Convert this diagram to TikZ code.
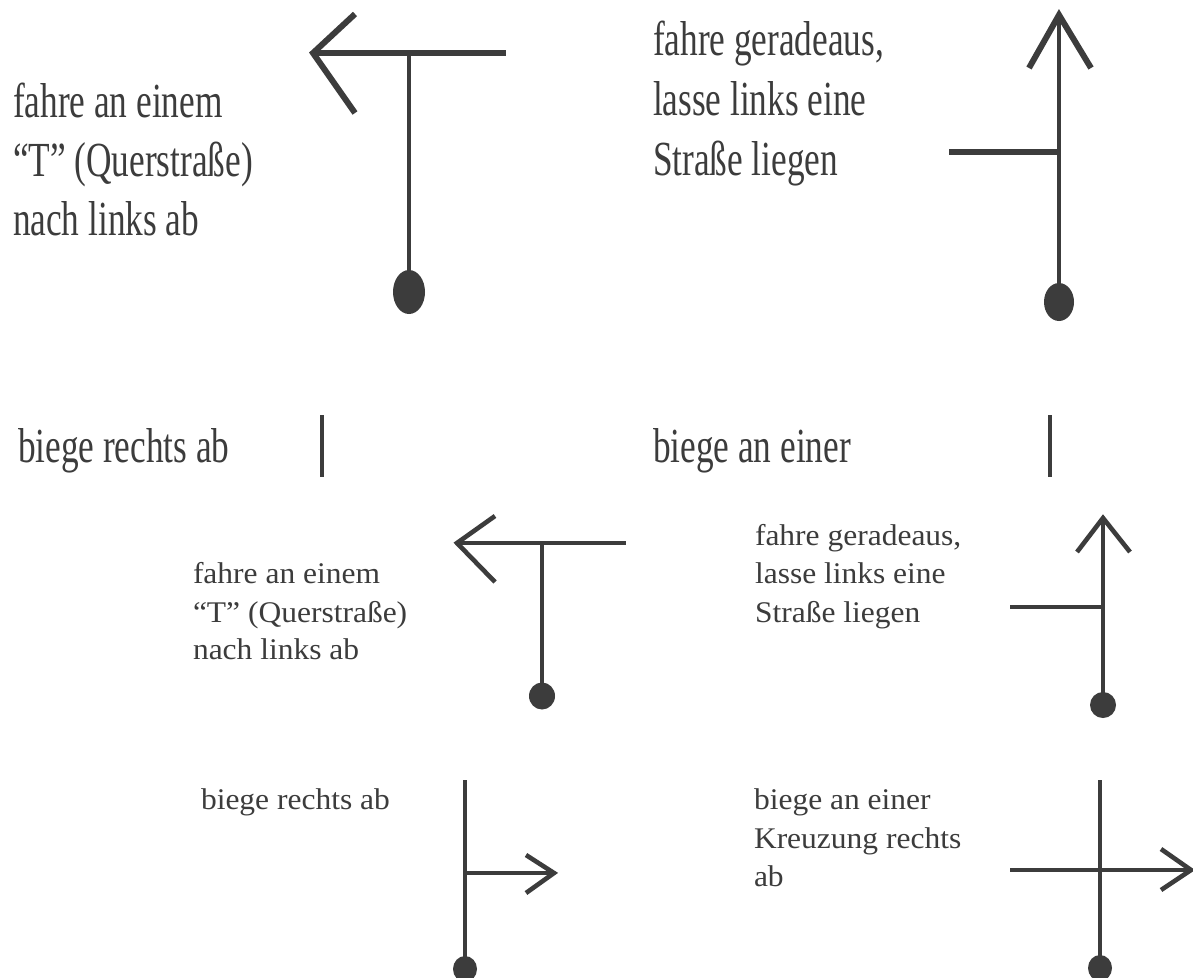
\documentclass[tikz,border=0pt]{standalone}
\usepackage{fontspec}
\usetikzlibrary{shapes.geometric}
\newfontfamily\bigf[FakeStretch=0.72]{Liberation Serif}
\newfontfamily\smallf[FakeStretch=1.05]{Liberation Serif}
\definecolor{ink}{HTML}{3C3C3C}
\tikzset{
  bigtxt/.style={anchor=base west, inner sep=0pt, outer sep=0pt, text=ink, font=\bigf\fontsize{49}{58}\selectfont},
  smalltxt/.style={anchor=base west, inner sep=0pt, outer sep=0pt, text=ink, font=\smallf\fontsize{30}{38}\selectfont},
  road/.style={draw=ink, line width=4pt},
  hroad/.style={draw=ink, line width=6pt},
  arm/.style={draw=ink, line width=6pt, line join=miter},
  sroad/.style={draw=ink, line width=3.6pt},
  sarm/.style={draw=ink, line width=4.6pt, line join=miter},
  dot/.style={ellipse, fill=ink, draw=none, inner sep=0pt, outer sep=0pt},
}
\begin{document}
\begin{tikzpicture}[x=1pt,y=-1pt]
\useasboundingbox[fill=white] (0,0) rectangle (1193,977);

% ---------- top left: T junction, turn left ----------
\node[bigtxt] (tl1) at (13,117) {fahre an einem};
\node[bigtxt] (tl2) at (13,176) {“T” (Querstraße)};
\node[bigtxt] (tl3) at (13,235) {nach links ab};
\coordinate (tlTip) at (313,53);
\coordinate (tlUp) at (355,14);
\coordinate (tlDn) at (355,113);
\coordinate (tlEnd) at (506,53);
\coordinate (tlJ) at (409,53);
\node[dot, minimum width=32pt, minimum height=44pt] (tlDot) at (409,292) {};
\draw[hroad] (tlTip) -- (tlEnd);
\draw[road] (tlJ) -- (tlDot.center);
\draw[arm] (tlUp) -- (tlTip) -- (tlDn);

% ---------- top right: straight on ----------
\node[bigtxt] (tr1) at (653,55) {fahre geradeaus,};
\node[bigtxt] (tr2) at (653,115) {lasse links eine};
\node[bigtxt] (tr3) at (653,175) {Straße liegen};
\coordinate (trTip) at (1059,15);
\coordinate (trL) at (1029,68);
\coordinate (trR) at (1091,68);
\coordinate (trSide) at (949,152);
\coordinate (trJ) at (1059,152);
\node[dot, minimum width=30pt, minimum height=38pt] (trDot) at (1059,302) {};
\draw[road] (trTip) -- (trDot.center);
\draw[hroad] (trSide) -- (trJ);
\draw[arm] (trL) -- (trTip) -- (trR);

% ---------- cut-off middle row ----------
\node[bigtxt] (m1) at (18,462) {biege rechts ab};
\coordinate (m1a) at (322,415);
\coordinate (m1b) at (322,477);
\draw[road] (m1a) -- (m1b);
\node[bigtxt] (m2) at (653,462) {biege an einer};
\coordinate (m2a) at (1050,415);
\coordinate (m2b) at (1050,477);
\draw[road] (m2a) -- (m2b);

% ---------- lower: T junction, turn left ----------
\node[smalltxt] (bl1) at (193,583) {fahre an einem};
\node[smalltxt] (bl2) at (193,622) {“T” (Querstraße)};
\node[smalltxt] (bl3) at (193,659) {nach links ab};
\coordinate (blTip) at (457,543);
\coordinate (blUp) at (495,516);
\coordinate (blDn) at (495,582);
\coordinate (blEnd) at (626,543);
\coordinate (blJ) at (542,543);
\node[dot, minimum width=26pt, minimum height=27pt] (blDot) at (542,696) {};
\draw[sroad] (blTip) -- (blEnd);
\draw[sroad] (blJ) -- (blDot.center);
\draw[sarm] (blUp) -- (blTip) -- (blDn);

% ---------- lower: straight on ----------
\node[smalltxt] (br1) at (755,545) {fahre geradeaus,};
\node[smalltxt] (br2) at (755,583) {lasse links eine};
\node[smalltxt] (br3) at (755,622) {Straße liegen};
\coordinate (brTip) at (1103,518);
\coordinate (brL) at (1077,552);
\coordinate (brR) at (1130,552);
\coordinate (brSide) at (1010,607);
\coordinate (brJ) at (1103,607);
\node[dot, minimum width=26pt, minimum height=26pt] (brDot) at (1103,705) {};
\draw[sroad] (brTip) -- (brDot.center);
\draw[sroad] (brSide) -- (brJ);
\draw[sarm] (brL) -- (brTip) -- (brR);

% ---------- lower: turn right ----------
\node[smalltxt] (rr1) at (201,809) {biege rechts ab};
\coordinate (rrTop) at (465,780);
\coordinate (rrJ) at (465,873);
\coordinate (rrTip) at (554,873);
\coordinate (rrUp) at (526,855);
\coordinate (rrDn) at (526,893);
\node[dot, minimum width=24pt, minimum height=26pt] (rrDot) at (465,969) {};
\draw[sroad] (rrTop) -- (rrDot.center);
\draw[sroad] (rrJ) -- (rrTip);
\draw[sarm] (rrUp) -- (rrTip) -- (rrDn);

% ---------- lower: crossing, turn right ----------
\node[smalltxt] (cr1) at (754,809) {biege an einer};
\node[smalltxt] (cr2) at (754,848) {Kreuzung rechts};
\node[smalltxt] (cr3) at (754,886) {ab};
\coordinate (crTop) at (1100,780);
\coordinate (crLeft) at (1010,870);
\coordinate (crTip) at (1191,870);
\coordinate (crUp) at (1161,849);
\coordinate (crDn) at (1161,890);
\node[dot, minimum width=24pt, minimum height=26pt] (crDot) at (1100,968) {};
\draw[sroad] (crTop) -- (crDot.center);
\draw[sroad] (crLeft) -- (crTip);
\draw[sarm] (crUp) -- (crTip) -- (crDn);
\end{tikzpicture}
\end{document}
